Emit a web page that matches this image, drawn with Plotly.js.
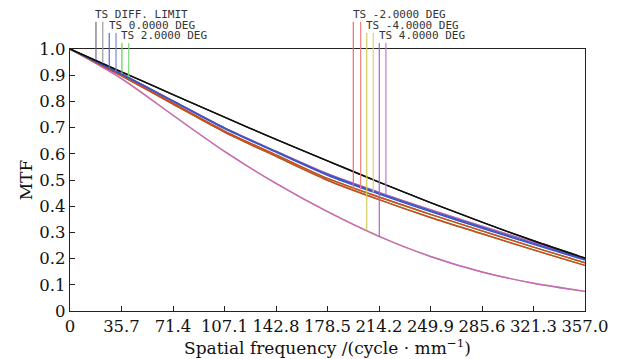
<!DOCTYPE html>
<html><head><meta charset="utf-8">
<script src="https://cdn.plot.ly/plotly-3.0.1.min.js"></script>
<style>html,body{margin:0;padding:0;background:#fff}#chart{width:628px;height:359px}</style>
</head><body><div id="chart"></div>
<script>
// ---- data ----
const freq = [0, 35.7, 71.4, 107.1, 142.8, 178.5, 214.2, 249.9, 285.6, 321.3, 357.0];
const tickLabels = ['0', '35.7', '71.4', '107.1', '142.8', '178.5', '214.2', '249.9', '285.6', '321.3', '357.0'];
const yTicks = [0, 0.1, 0.2, 0.3, 0.4, 0.5, 0.6, 0.7, 0.8, 0.9, 1.0];
const yTickLabels = ['0', '0.1', '0.2', '0.3', '0.4', '0.5', '0.6', '0.7', '0.8', '0.9', '1.0'];

const diffT = [1.0, 0.913, 0.826, 0.740, 0.655, 0.573, 0.492, 0.414, 0.339, 0.268, 0.202];
const diffS = [1.0, 0.913, 0.826, 0.740, 0.655, 0.573, 0.492, 0.414, 0.339, 0.268, 0.202];
const deg0T = [1.0, 0.903, 0.800, 0.696, 0.606, 0.518, 0.446, 0.379, 0.316, 0.254, 0.194];
const deg0S = [1.0, 0.905, 0.802, 0.699, 0.609, 0.522, 0.450, 0.383, 0.320, 0.258, 0.197];
const deg2T = [1.0, 0.897, 0.790, 0.683, 0.590, 0.499, 0.425, 0.357, 0.295, 0.233, 0.174];
const deg2S = [1.0, 0.899, 0.793, 0.687, 0.596, 0.506, 0.435, 0.369, 0.306, 0.244, 0.184];
const degm2T = [1.0, 0.897, 0.790, 0.683, 0.590, 0.499, 0.425, 0.357, 0.295, 0.233, 0.174];
const degm2S = [1.0, 0.899, 0.793, 0.687, 0.596, 0.506, 0.435, 0.369, 0.306, 0.244, 0.184];
const degm4T = [1.0, 0.887, 0.747, 0.609, 0.487, 0.379, 0.285, 0.208, 0.149, 0.106, 0.075];
const degm4S = [1.0, 0.905, 0.802, 0.699, 0.610, 0.524, 0.453, 0.387, 0.324, 0.262, 0.200];
const deg4T = [1.0, 0.887, 0.747, 0.609, 0.487, 0.379, 0.285, 0.208, 0.149, 0.106, 0.075];
const deg4S = [1.0, 0.905, 0.802, 0.699, 0.610, 0.524, 0.453, 0.387, 0.324, 0.262, 0.200];

// legend marker lines: label, frequencies (T,S), curve value where each line ends
const legendNames = ['TS DIFF. LIMIT', 'TS 0.0000 DEG', 'TS 2.0000 DEG', 'TS -2.0000 DEG', 'TS -4.0000 DEG', 'TS 4.0000 DEG'];
const markerFreqT = [18.0, 27.2, 36.0, 196.4, 205.7, 214.4];
const markerFreqS = [22.7, 31.9, 40.7, 201.5, 210.2, 219.0];
const markerMtfT = [0.958, 0.926, 0.905, 0.462, 0.307, 0.284];
const markerMtfS = [0.946, 0.914, 0.893, 0.466, 0.452, 0.443];

// ---- styles ----
const curveColors = {diff: '#111111', d0: '#3a55c8', d2: '#3cb44a', dm2: '#d8461e', dm4: '#c8c040', d4: '#c865c8'};
const markerColorsT = ['#707070', '#5a6ad0', '#5ccc5c', '#f06a6a', '#d2cc5a', '#b060c8'];
const markerColorsS = ['#9a9a9a', '#7a88d8', '#7ad87a', '#f28080', '#dcd670', '#c078d4'];
const rowTop = [1.104, 1.061, 1.023, 1.104, 1.061, 1.023];
const rowLabelY = [1.132, 1.090, 1.050, 1.132, 1.090, 1.050];

function line(y, color, w) {
  return {x: freq, y: y, type: 'scatter', mode: 'lines', line: {color: color, width: w || 1.4, shape: 'spline', smoothing: 0.8}, hoverinfo: 'skip'};
}
const traces = [
  line(degm4T, curveColors.dm4), line(degm4S, curveColors.dm4),
  line(deg4T, curveColors.d4), line(deg4S, curveColors.d4),
  line(deg2T, curveColors.d2), line(deg2S, curveColors.d2),
  line(degm2T, curveColors.dm2), line(degm2S, curveColors.dm2),
  line(deg0T, curveColors.d0), line(deg0S, curveColors.d0),
  line(diffT, curveColors.diff), line(diffS, curveColors.diff)
];

const shapes = [];
const annotations = [];
for (let i = 0; i < legendNames.length; i++) {
  shapes.push({type: 'line', xref: 'x', yref: 'paper', x0: markerFreqT[i], x1: markerFreqT[i], y0: markerMtfT[i], y1: rowTop[i], line: {color: markerColorsT[i], width: 1.2}, layer: 'above'});
  shapes.push({type: 'line', xref: 'x', yref: 'paper', x0: markerFreqS[i], x1: markerFreqS[i], y0: markerMtfS[i], y1: rowTop[i], line: {color: markerColorsS[i], width: 1.2}, layer: 'above'});
  annotations.push({text: legendNames[i], xref: 'x', yref: 'paper', x: markerFreqT[i] - 1.9, y: rowLabelY[i], xanchor: 'left', yanchor: 'middle', showarrow: false, height: 9, font: {family: 'DejaVu Sans Mono', size: 11, color: '#333333'}});
}

const serif = 'DejaVu Serif';
const layout = {
  width: 628, height: 359,
  margin: {l: 70, r: 43, t: 49, b: 48},
  paper_bgcolor: '#fff', plot_bgcolor: '#fff',
  showlegend: false,
  font: {family: serif, size: 16.5, color: '#111'},
  xaxis: {
    range: [0, 357], tickvals: freq, ticktext: tickLabels,
    ticks: 'inside', ticklen: 5, tickwidth: 1, tickcolor: '#222',
    showline: true, mirror: true, linecolor: '#222', linewidth: 1.3,
    showgrid: false, zeroline: false,
    tickfont: {family: serif, size: 16.5, color: '#111'},
    title: {text: 'Spatial frequency /(cycle · mm<sup>−1</sup>)', font: {family: serif, size: 17, color: '#111'}, standoff: 1}
  },
  yaxis: {
    range: [0, 1], tickvals: yTicks, ticktext: yTickLabels,
    ticks: 'inside', ticklen: 5, tickwidth: 1, tickcolor: '#222',
    showline: true, mirror: true, linecolor: '#222', linewidth: 1.3,
    showgrid: false, zeroline: false,
    tickfont: {family: serif, size: 16.5, color: '#111'},
    title: {text: 'MTF', font: {family: serif, size: 17, color: '#111'}, standoff: 2}
  },
  shapes: shapes,
  annotations: annotations
};

Plotly.newPlot('chart', traces, layout, {displayModeBar: false, staticPlot: true});
</script>
</body></html>
